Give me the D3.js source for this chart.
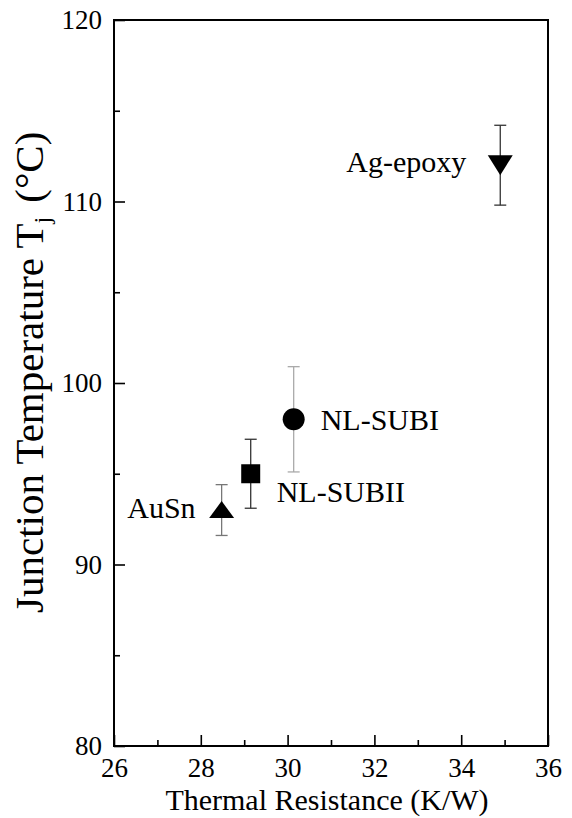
<!DOCTYPE html>
<html>
<head>
<meta charset="utf-8">
<script src="https://cdn.jsdelivr.net/npm/d3@7"></script>
<style>
  html, body { margin: 0; padding: 0; background: #fff; }
  svg { display: block; }
  svg text { font-family: "Liberation Serif", "Times New Roman", serif; }
</style>
</head>
<body>
<svg id="chart" width="572" height="818"></svg>
<script>
// Die-attach materials: thermal resistance vs. junction temperature
const materials   = ["AuSn", "NL-SUBII", "NL-SUBI", "Ag-epoxy"];
const resistance  = [28.48, 29.15, 30.14, 34.9];   // K/W
const junctionT   = [93.0, 95.0, 98.0, 112.0];     // °C
const tempError   = [1.4, 1.9, 2.9, 2.2];          // ± °C
const markerShape = ["triangleUp", "square", "circle", "triangleDown"];
const xTicks = [26, 28, 30, 32, 34, 36];
const yTicks = [80, 90, 100, 110, 120];

// label placement relative to each marker
const labelStyle = {
  "AuSn":     { dx: -26, dy: 8,  anchor: "end" },
  "NL-SUBII": { dx: 26,  dy: 28, anchor: "start" },
  "NL-SUBI":  { dx: 27,  dy: 11, anchor: "start" },
  "Ag-epoxy": { dx: -34, dy: 7,  anchor: "end" }
};
const errColor = {
  "AuSn": "#777", "NL-SUBII": "#333", "NL-SUBI": "#aaa", "Ag-epoxy": "#333"
};

const data = materials.map((m, i) => ({
  name: m, x: resistance[i], y: junctionT[i], e: tempError[i], shape: markerShape[i]
}));

const serif = "'Liberation Serif', 'Times New Roman', serif";
const svg = d3.select("#chart");
const L = 114, R = 548, T = 20, B = 746;

const x = d3.scaleLinear().domain([26, 36]).range([L, R]);
const y = d3.scaleLinear().domain([80, 120]).range([B, T]);

// frame
svg.append("rect")
  .attr("x", L).attr("y", T).attr("width", R - L).attr("height", B - T)
  .attr("fill", "none").attr("stroke", "#000").attr("stroke-width", 2);

// bottom axis: inward ticks, majors labelled
const xAxis = svg.append("g").attr("transform", `translate(0,${B})`);
xAxis.call(d3.axisBottom(x).tickValues(d3.range(27, 36, 2)).tickSize(-6).tickFormat(""));
xAxis.append("g").call(d3.axisBottom(x).tickValues(xTicks).tickSize(-11).tickPadding(12).tickFormat(d3.format("d")));
xAxis.selectAll(".domain").remove();
xAxis.selectAll("line").attr("stroke", "#000").attr("stroke-width", 1.6);
xAxis.selectAll("text")
  .style("font-family", serif).style("font-size", "27px").attr("fill", "#000");

// left axis
const yAxis = svg.append("g").attr("transform", `translate(${L},0)`);
yAxis.call(d3.axisLeft(y).tickValues(d3.range(85, 120, 10)).tickSize(-6).tickFormat(""));
yAxis.append("g").call(d3.axisLeft(y).tickValues(yTicks).tickSize(-11).tickPadding(12).tickFormat(d3.format("d")));
yAxis.selectAll(".domain").remove();
yAxis.selectAll("line").attr("stroke", "#000").attr("stroke-width", 1.6);
yAxis.selectAll("text")
  .style("font-family", serif).style("font-size", "27px").attr("fill", "#000");

// axis titles
svg.append("text")
  .attr("x", (L + R) / 2 - 4).attr("y", 810)
  .attr("text-anchor", "middle")
  .style("font-family", serif).style("font-size", "30px").attr("fill", "#000")
  .text("Thermal Resistance (K/W)");

const yTitle = svg.append("text")
  .attr("transform", "translate(43,613) rotate(-90)")
  .style("font-family", serif).style("font-size", "41px").attr("fill", "#000");
yTitle.append("tspan").text("Junction Temperature T");
yTitle.append("tspan").style("font-size", "24px").attr("dy", 7).text("j");
yTitle.append("tspan").attr("dy", -7).attr("dx", 14).text("(°C)");

// error bars
const cap = 6;
const eb = svg.append("g").selectAll("g").data(data).join("g")
  .attr("stroke", d => errColor[d.name]).attr("stroke-width", 1.3);
eb.append("line")
  .attr("x1", d => x(d.x)).attr("x2", d => x(d.x))
  .attr("y1", d => y(d.y + d.e)).attr("y2", d => y(d.y - d.e));
eb.append("line")
  .attr("x1", d => x(d.x) - cap).attr("x2", d => x(d.x) + cap)
  .attr("y1", d => y(d.y + d.e)).attr("y2", d => y(d.y + d.e));
eb.append("line")
  .attr("x1", d => x(d.x) - cap).attr("x2", d => x(d.x) + cap)
  .attr("y1", d => y(d.y - d.e)).attr("y2", d => y(d.y - d.e));

// marker shapes
const shapes = {
  triangleUp:   "M0,-9L12.5,8L-12.5,8Z",
  triangleDown: "M0,10L12.5,-10L-12.5,-10Z",
  square:       d3.symbol(d3.symbolSquare, 19 * 19)(),
  circle:       d3.symbol(d3.symbolCircle, Math.PI * 11 * 11)()
};
svg.append("g").selectAll("path").data(data).join("path")
  .attr("transform", d => `translate(${x(d.x)},${y(d.y)})`)
  .attr("d", d => shapes[d.shape])
  .attr("fill", "#000");

// material labels
svg.append("g").selectAll("text").data(data).join("text")
  .attr("x", d => x(d.x) + labelStyle[d.name].dx)
  .attr("y", d => y(d.y) + labelStyle[d.name].dy)
  .attr("text-anchor", d => labelStyle[d.name].anchor)
  .style("font-family", serif).style("font-size", "30px").attr("fill", "#000")
  .text(d => d.name);
</script>
</body>
</html>
